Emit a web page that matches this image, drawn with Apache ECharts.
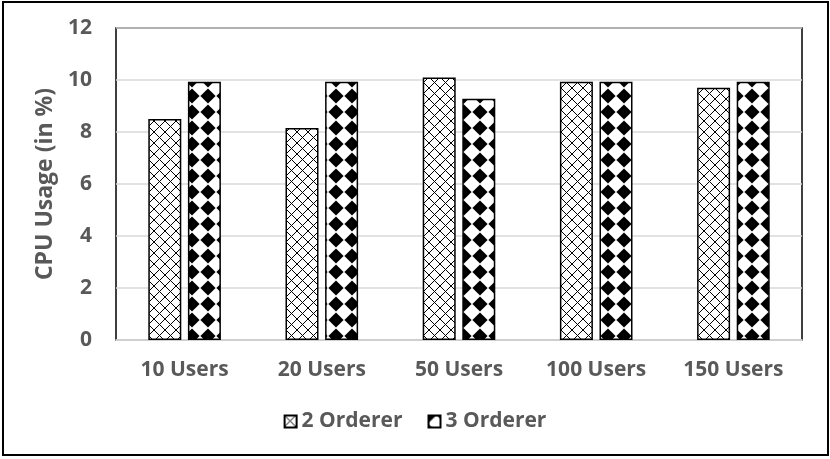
<!DOCTYPE html>
<html>
<head>
<meta charset="utf-8">
<script src="https://cdn.jsdelivr.net/npm/echarts@6/dist/echarts.min.js"></script>
<style>
	html, body { margin: 0; padding: 0; background: #fff; }
	#main { width: 830px; height: 459px; }
</style>
</head>
<body>
<div id="main"></div>
<script>
	var categories = ['10 Users', '20 Users', '50 Users', '100 Users', '150 Users'];
	var seriesNames = ['2 Orderer', '3 Orderer'];
	var orderer2 = [8.5, 8.15, 10.1, 9.93, 9.7];
	var orderer3 = [9.93, 9.93, 9.28, 9.93, 9.93];

	// 交叉斜线填充
	function crossPattern() {
		var c = document.createElement('canvas');
		c.width = 11; c.height = 11;
		var ctx = c.getContext('2d');
		ctx.fillStyle = '#fff';
		ctx.fillRect(0, 0, 11, 11);
		ctx.strokeStyle = '#000';
		ctx.lineWidth = 1;
		ctx.beginPath();
		ctx.moveTo(0, 0); ctx.lineTo(11, 11);
		ctx.moveTo(11, 0); ctx.lineTo(0, 11);
		ctx.stroke();
		return c;
	}

	// 菱形棋盘填充（黑菱形在四角）
	function diamondPattern() {
		var s = 16, r = 7.6;
		var c = document.createElement('canvas');
		c.width = s; c.height = s;
		var ctx = c.getContext('2d');
		ctx.fillStyle = '#fff';
		ctx.fillRect(0, 0, s, s);
		ctx.fillStyle = '#000';
		var centers = [[0, 0], [s, 0], [0, s], [s, s]];
		centers.forEach(function(p) {
			ctx.beginPath();
			ctx.moveTo(p[0], p[1] - r);
			ctx.lineTo(p[0] + r, p[1]);
			ctx.lineTo(p[0], p[1] + r);
			ctx.lineTo(p[0] - r, p[1]);
			ctx.closePath();
			ctx.fill();
		});
		return c;
	}

	var textColor = '#595959';
	var font = 'Open Sans';

	var myChart = echarts.init(document.getElementById('main'));
	var option = {
		animation: false,
		backgroundColor: '#fff',
		graphic: [{
			type: 'rect',
			shape: { x: 3, y: 2, width: 825, height: 453 },
			style: { fill: 'none', stroke: '#000', lineWidth: 2 },
			silent: true
		}],
		grid: {
			left: 116, right: 28, top: 28, bottom: 119,
			show: true,
			borderColor: '#000',
			borderWidth: 1.5
		},
		legend: {
			bottom: 22,
			left: 'center',
			itemWidth: 12,
			itemHeight: 12,
			itemGap: 25,
			icon: 'rect',
			textStyle: { color: textColor, fontFamily: font, fontWeight: 'bold', fontSize: 21 },
			data: seriesNames
		},
		xAxis: {
			type: 'category',
			data: categories,
			axisLine: { lineStyle: { color: '#d9d9d9', width: 1.5 } },
			axisTick: { show: false },
			axisLabel: { color: textColor, fontFamily: font, fontWeight: 'bold', fontSize: 21, margin: 20 }
		},
		yAxis: {
			type: 'value',
			min: 0, max: 12, interval: 2,
			name: 'CPU Usage (in %)',
			nameLocation: 'middle',
			nameGap: 58,
			nameTextStyle: { color: textColor, fontFamily: font, fontWeight: 'bold', fontSize: 23 },
			axisLabel: { color: textColor, fontFamily: font, fontWeight: 'bold', fontSize: 21, margin: 24 },
			splitLine: { lineStyle: { color: '#d9d9d9', width: 1.5 } }
		},
		series: [
			{
				name: seriesNames[0],
				type: 'bar',
				barWidth: 33,
				barGap: '20%',
				itemStyle: {
					color: { image: crossPattern(), repeat: 'repeat' },
					borderColor: '#000',
					borderWidth: 1.5
				},
				data: orderer2
			},
			{
				name: seriesNames[1],
				type: 'bar',
				barWidth: 33,
				itemStyle: {
					color: { image: diamondPattern(), repeat: 'repeat' },
					borderColor: '#000',
					borderWidth: 1.5
				},
				data: orderer3
			}
		]
	};
	myChart.setOption(option);
</script>
</body>
</html>
